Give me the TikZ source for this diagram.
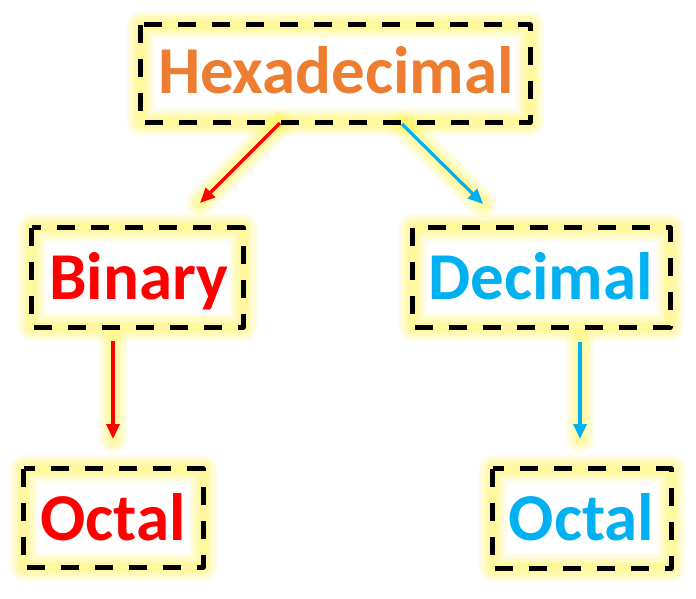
\documentclass[tikz,border=0pt]{standalone}
\usepackage{fontspec}
\setmainfont{Carlito}
\usetikzlibrary{arrows.meta}
\definecolor{hexorange}{HTML}{ED7D31}
\definecolor{binred}{HTML}{FF0000}
\definecolor{decblue}{HTML}{00B0F0}
\definecolor{glowyellow}{HTML}{FFF030}
\newcommand{\glowit}[1]{%
  \foreach \w/\o in {28/0.10,23/0.11,18/0.12,13/0.13,8/0.14}{%
    \draw[glowyellow, line width=\w pt, opacity=\o, line join=round, line cap=round] #1;}%
}
\tikzset{
  box/.style={draw=black, line width=5pt, dash pattern=on 18pt off 16pt, inner sep=0pt, line join=round},
  spot/.style={inner sep=0pt, draw=none},
  lbl/.style={font=\bfseries\fontsize{67}{67}\selectfont, anchor=base, inner sep=0pt},
  arr/.style={line width=3.2pt, -{Triangle[length=15pt,width=13pt]}},
}
\begin{document}
\begin{tikzpicture}[x=1pt,y=-1pt]
\useasboundingbox (0,0) rectangle (696,598);
% boxes (positions)
\node[spot, minimum width=389pt, minimum height=97pt] (hex) at (335.5,73.5) {};
\node[spot, minimum width=211pt, minimum height=99pt] (bin) at (137.5,277.5) {};
\node[spot, minimum width=257pt, minimum height=99pt] (dec) at (541.5,277.5) {};
\node[spot, minimum width=179pt, minimum height=98pt] (octl) at (113.5,518) {};
\node[spot, minimum width=178pt, minimum height=99pt] (octr) at (582,518.5) {};
% arrow end points
\coordinate (hexL) at (280,123);
\coordinate (binT) at (200,203);
\coordinate (hexR) at (402,124);
\coordinate (decT) at (483,204);
\coordinate (binB) at (113,341);
\coordinate (octlT) at (113,439);
\coordinate (decB) at (580,342);
\coordinate (octrT) at (580,439);
% glows
\foreach \n in {hex,bin,dec,octl,octr}{\glowit{(\n.north west) rectangle (\n.south east)}}
\glowit{(hexL) -- (binT)}
\glowit{(hexR) -- (decT)}
\glowit{(binB) -- (octlT)}
\glowit{(decB) -- (octrT)}
% dashed borders
\foreach \n in {hex,bin,dec,octl,octr}{\draw[box] (\n.north west) rectangle (\n.south east);}
% labels
\node[lbl, text=hexorange] (thex) at (336,93) {Hexadecimal};
\node[lbl, text=binred] (tbin) at (138.5,299) {Binary};
\node[lbl, text=decblue] (tdec) at (540.5,299) {Decimal};
\node[lbl, text=binred] (toctl) at (113,540) {Octal};
\node[lbl, text=decblue] (toctr) at (581.5,540) {Octal};
% arrows
\draw[arr, binred] (hexL) -- (binT);
\draw[arr, decblue] (hexR) -- (decT);
\draw[arr, binred] (binB) -- (octlT);
\draw[arr, decblue] (decB) -- (octrT);
\end{tikzpicture}
\end{document}
